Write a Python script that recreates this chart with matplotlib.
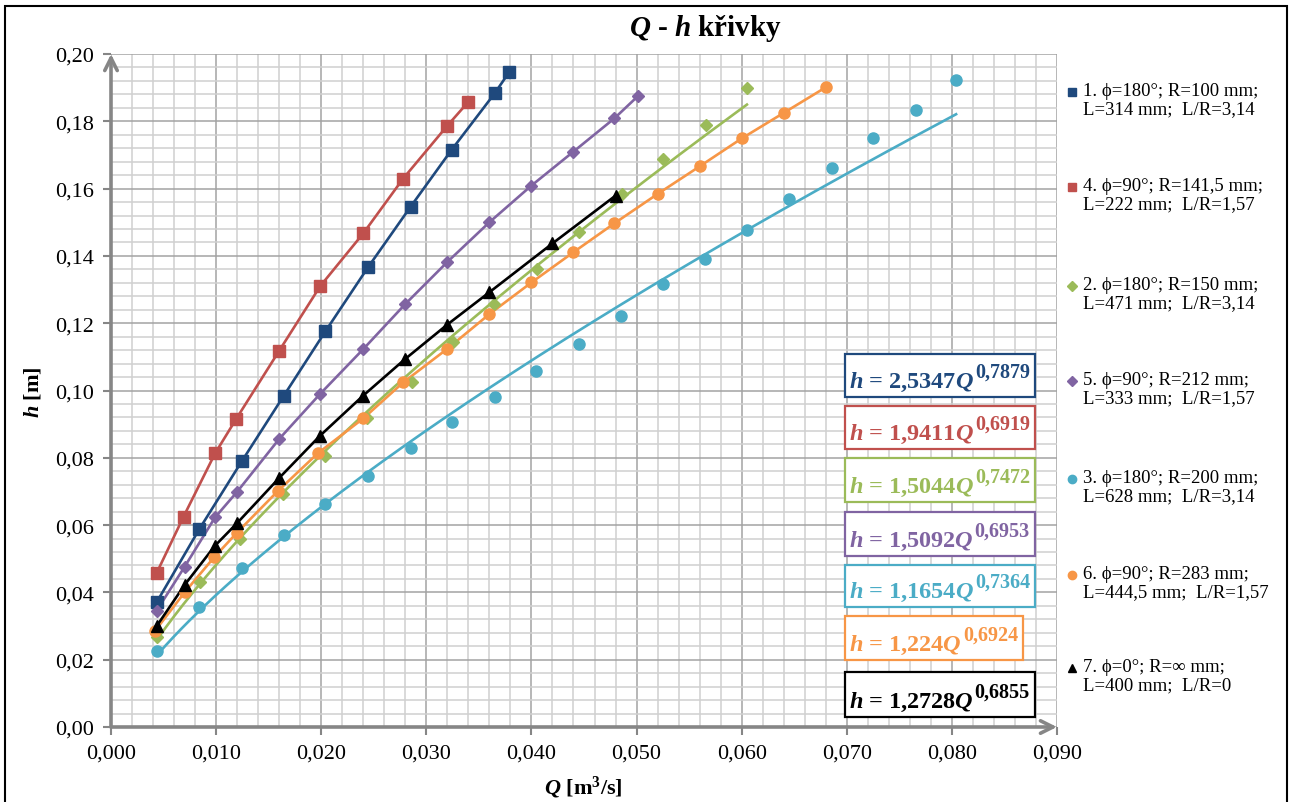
import numpy as np
import matplotlib
matplotlib.use('Agg')
import matplotlib.pyplot as plt
from matplotlib.ticker import MultipleLocator, FuncFormatter
from matplotlib.lines import Line2D
from matplotlib.patches import Rectangle

plt.rcParams['font.family'] = ['Liberation Serif', 'DejaVu Serif']
plt.rcParams['mathtext.fontset'] = 'custom'
plt.rcParams['mathtext.rm'] = 'Liberation Serif:bold'
plt.rcParams['mathtext.bf'] = 'Liberation Serif:bold'
plt.rcParams['mathtext.it'] = 'Liberation Serif:bold:italic'

# namerene body Q [m3/s], h [m]
q1 = [0.00435, 0.0084, 0.01245, 0.01645, 0.0204, 0.02445, 0.0285, 0.0324, 0.0365, 0.0379]
h1 = [0.0371, 0.0588, 0.0790, 0.0985, 0.1176, 0.1366, 0.1546, 0.1715, 0.1883, 0.1947]

q4 = [0.00435, 0.0069, 0.0099, 0.0119, 0.0160, 0.0199, 0.0240, 0.0278, 0.0320, 0.0340]
h4 = [0.0458, 0.0625, 0.0813, 0.0915, 0.1118, 0.1310, 0.1467, 0.1630, 0.1787, 0.1858]

q2 = [0.00435, 0.0085, 0.0123, 0.0164, 0.0204, 0.0244, 0.0286, 0.0325, 0.0364, 0.0405,
      0.0445, 0.0486, 0.0525, 0.0566, 0.0605]
h2 = [0.0267, 0.0430, 0.0559, 0.0692, 0.0806, 0.0917, 0.1026, 0.1145, 0.1257, 0.1361,
      0.1470, 0.1584, 0.1688, 0.1789, 0.1898]

q5 = [0.00435, 0.0070, 0.0099, 0.0120, 0.0160, 0.0199, 0.0240, 0.0280, 0.0320, 0.0360,
      0.0400, 0.0440, 0.0479, 0.0501]
h5 = [0.0346, 0.0476, 0.0623, 0.0699, 0.0856, 0.0990, 0.1123, 0.1257, 0.1382, 0.1500,
      0.1609, 0.1710, 0.1809, 0.1874]

q3 = [0.0044, 0.0084, 0.01245, 0.01645, 0.0204, 0.02445, 0.0285, 0.0324, 0.0365, 0.0404,
      0.0445, 0.0485, 0.0525, 0.0565, 0.0605, 0.0645, 0.0686, 0.0725, 0.0766, 0.0804]
h3 = [0.0225, 0.0356, 0.0472, 0.0572, 0.0663, 0.0747, 0.0828, 0.0907, 0.0982, 0.1057,
      0.1138, 0.1220, 0.1316, 0.1391, 0.1477, 0.1569, 0.1660, 0.1749, 0.1835, 0.1924]

q6 = [0.0042, 0.0070, 0.0098, 0.0120, 0.0159, 0.0197, 0.0240, 0.0278, 0.0320, 0.0360,
      0.0400, 0.0440, 0.0479, 0.0520, 0.0560, 0.0600, 0.0640, 0.0680]
h6 = [0.0286, 0.0400, 0.0504, 0.0578, 0.0702, 0.0814, 0.0917, 0.1024, 0.1124, 0.1227,
      0.1321, 0.1411, 0.1497, 0.1584, 0.1666, 0.1749, 0.1825, 0.1901]

q7 = [0.00435, 0.0070, 0.0099, 0.0120, 0.0160, 0.0199, 0.0240, 0.0280, 0.0320, 0.0360,
      0.0420, 0.0480]
h7 = [0.0300, 0.0422, 0.0539, 0.0606, 0.0740, 0.0866, 0.0985, 0.1094, 0.1196, 0.1292,
      0.1437, 0.1579]

# koeficienty mocninne regrese h = a*Q^b
a_coef = [2.5347, 1.9411, 1.5044, 1.5092, 1.1654, 1.224, 1.2728]
b_coef = [0.7879, 0.6919, 0.7472, 0.6953, 0.7364, 0.6924, 0.6855]

labels = ['1. ϕ=180°; R=100 mm;\nL=314 mm;  L/R=3,14',
          '4. ϕ=90°; R=141,5 mm;\nL=222 mm;  L/R=1,57',
          '2. ϕ=180°; R=150 mm;\nL=471 mm;  L/R=3,14',
          '5. ϕ=90°; R=212 mm;\nL=333 mm;  L/R=1,57',
          '3. ϕ=180°; R=200 mm;\nL=628 mm;  L/R=3,14',
          '6. ϕ=90°; R=283 mm;\nL=444,5 mm;  L/R=1,57',
          '7. ϕ=0°; R=∞ mm;\nL=400 mm;  L/R=0']

Qs = [q1, q4, q2, q5, q3, q6, q7]
Hs = [h1, h4, h2, h5, h3, h6, h7]
colors = ['#1F497D', '#C0504D', '#9BBB59', '#8064A2', '#4BACC6', '#F79646', '#000000']
markers = ['s', 's', 'D', 'D', 'o', 'o', '^']
msizes = [8.5, 8.5, 6, 6, 8, 8, 8]
joined = [True, True, False, True, False, True, True]

W, H = 1294, 803
fig = plt.figure(figsize=(W / 100, H / 100), dpi=100)
ax = fig.add_axes([111 / W, 75 / H, 946 / W, 673 / H])
ax.set_xlim(0, 0.09)
ax.set_ylim(0, 0.2)
ax.xaxis.set_major_locator(MultipleLocator(0.01))
ax.xaxis.set_minor_locator(MultipleLocator(0.002))
ax.yaxis.set_major_locator(MultipleLocator(0.02))
ax.yaxis.set_minor_locator(MultipleLocator(0.004))
ax.grid(which='minor', color='#D0D0D0', lw=1.1)
ax.grid(which='major', color='#A3A3A3', lw=1.1)
ax.set_axisbelow(True)
for s in ax.spines.values():
    s.set_visible(False)
ax.tick_params(which='major', direction='out', length=6, width=1.5, color='#868686',
               labelsize=16, pad=6)
ax.tick_params(which='minor', length=0)
ax.xaxis.set_major_formatter(FuncFormatter(lambda v, p: f'{v:.3f}'.replace('.', ',')))
ax.yaxis.set_major_formatter(FuncFormatter(lambda v, p: f'{v:.2f}'.replace('.', ',')))

arrow = dict(arrowstyle='->,head_length=0.9,head_width=0.45', color='#868686', lw=2.6,
             shrinkA=0, shrinkB=0)
ax.annotate('', xy=(0, 1.0), xytext=(0, 0), xycoords='axes fraction', arrowprops=arrow,
            annotation_clip=False)
ax.annotate('', xy=(1.0, 0), xytext=(0, 0), xycoords='axes fraction', arrowprops=arrow,
            annotation_clip=False)

for q, h, c, m, ms, j, a, b in zip(Qs, Hs, colors, markers, msizes, joined, a_coef, b_coef):
    q = np.array(q)
    h = np.array(h)
    if j:
        ax.plot(q, h, color=c, lw=1.9, zorder=3)
    else:
        # jen spojnice trendu
        qq = np.linspace(q.min(), q.max(), 200)
        ax.plot(qq, a * qq ** b, color=c, lw=1.9, zorder=3)
    ax.plot(q, h, ls='none', marker=m, color=c, markersize=ms, zorder=4)

# rovnice regrese v ramecku
r = fig.canvas.get_renderer()
box_tb = [(355, 398), (407, 450), (459, 503), (513, 557), (566, 608), (617, 661), (673, 718)]
for a, b, c, (top, bot) in zip(a_coef, b_coef, colors, box_tb):
    sa = str(a).replace('.', ',')
    sb = str(b).replace('.', ',')
    base = 1 - (bot - 10) / H
    t1 = fig.text(849 / W, base, f'$h$ = {sa}$Q$', color=c, fontsize=17.5,
                  fontweight='bold', ha='left', va='baseline')
    bb = t1.get_window_extent(renderer=r)
    t2 = fig.text((bb.x1 + 1) / W, base + 10 / H, sb, color=c, fontsize=14.5,
                  fontweight='bold', ha='left', va='baseline')
    bb2 = t2.get_window_extent(renderer=r)
    right = bb2.x1 + 5
    fig.add_artist(Rectangle((845 / W, 1 - bot / H), (right - 845) / W, (bot - top) / H,
                             transform=fig.transFigure, fc='white', ec=c, lw=1.6,
                             zorder=1))
    t1.set_zorder(2)
    t2.set_zorder(2)

# legenda
leg_y = [83, 178, 277, 372, 470, 566, 659]
for lab, c, m, y in zip(labels, colors, markers, leg_y):
    fig.add_artist(Line2D([1072 / W], [1 - (y + 10) / H], transform=fig.transFigure,
                          marker=m, color=c, markersize=6 if m != 'D' else 5, ls='none'))
    fig.text(1083 / W, 1 - y / H, lab, fontsize=13.5, ha='left', va='top',
             linespacing=1.1)

fig.text(706 / W, 1 - 28 / H, r'$Q$ - $h$ křivky', fontsize=21, fontweight='bold',
         ha='center', va='center')
fig.text(583 / W, 1 - 788 / H, r'$Q$ [m$^3$/s]', fontsize=16, fontweight='bold',
         ha='center', va='center')
fig.text(33 / W, 1 - 392 / H, r'$h$ [m]', fontsize=16, fontweight='bold',
         ha='center', va='center', rotation=90)

fig.add_artist(Rectangle((5 / W, -0.02), 1282 / W, 1.02 - 7 / H, transform=fig.transFigure,
                         fill=False, ec='black', lw=1.5))

fig.savefig('out.png', dpi=100)
